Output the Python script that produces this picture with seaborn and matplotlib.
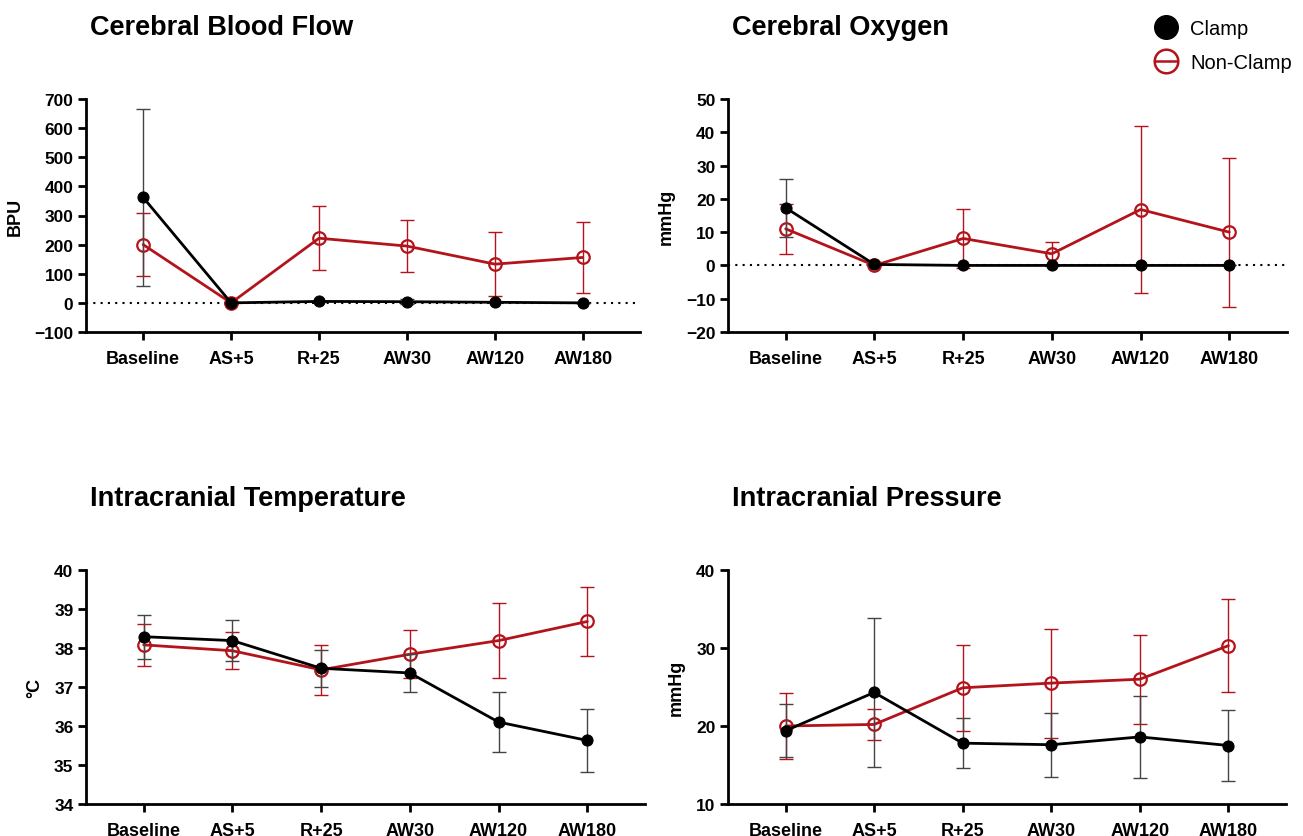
import numpy as np
import pandas as pd
import matplotlib
matplotlib.use("Agg")
import matplotlib.pyplot as plt
import seaborn as sns
from matplotlib.lines import Line2D

timepoints = ["Baseline", "AS+5", "R+25", "AW30", "AW120", "AW180"]

# Cerebral Blood Flow (BPU)
cbf_clamp = [362, 0, 5, 4, 2, 0]
cbf_clamp_sd = [303, 0, 0, 8, 0, 0]
cbf_non = [200, 0, 222, 195, 133, 156]
cbf_non_sd = [108, 0, 110, 90, 109, 123]

# Cerebral Oxygen (mmHg)
oxy_clamp = [17.3, 0.3, 0, 0, 0, 0]
oxy_clamp_sd = [8.7, 0, 0, 0, 0, 0]
oxy_non = [11.0, 0, 8.1, 3.5, 16.8, 10.0]
oxy_non_sd = [7.5, 0, 9.0, 3.6, 25.0, 22.4]

# Intracranial Temperature (C)
temp_clamp = [38.29, 38.19, 37.48, 37.36, 36.10, 35.63]
temp_clamp_sd = [0.56, 0.52, 0.47, 0.49, 0.76, 0.80]
temp_non = [38.08, 37.93, 37.44, 37.84, 38.19, 38.68]
temp_non_sd = [0.54, 0.47, 0.64, 0.61, 0.96, 0.88]

# Intracranial Pressure (mmHg)
icp_clamp = [19.4, 24.3, 17.8, 17.6, 18.6, 17.5]
icp_clamp_sd = [3.4, 9.5, 3.2, 4.1, 5.3, 4.6]
icp_non = [20.0, 20.2, 24.9, 25.5, 26.0, 30.3]
icp_non_sd = [4.2, 2.0, 5.5, 7.0, 5.7, 6.0]

RED = "#b3141c"
sns.set_style("white")
plt.rcParams["font.family"] = ["Liberation Sans", "DejaVu Sans"]
plt.rcParams["text.color"] = "black"
plt.rcParams["xtick.color"] = "black"
plt.rcParams["ytick.color"] = "black"
plt.rcParams["axes.labelcolor"] = "black"

fig = plt.figure(figsize=(13.03, 8.37), dpi=100)

panels = [
    ("Cerebral Blood Flow", "BPU", cbf_clamp, cbf_clamp_sd, cbf_non, cbf_non_sd,
     (-100, 700), np.arange(-100, 701, 100), True, [86, 100, 640, 333]),
    ("Cerebral Oxygen", "mmHg", oxy_clamp, oxy_clamp_sd, oxy_non, oxy_non_sd,
     (-20, 50), np.arange(-20, 51, 10), True, [728, 100, 1287, 333]),
    ("Intracranial Temperature", "°C", temp_clamp, temp_clamp_sd, temp_non, temp_non_sd,
     (34, 40), np.arange(34, 41, 1), False, [86, 571, 645, 805]),
    ("Intracranial Pressure", "mmHg", icp_clamp, icp_clamp_sd, icp_non, icp_non_sd,
     (10, 40), np.arange(10, 41, 10), False, [728, 571, 1286, 805]),
]

W, H = 1303, 837
x = np.arange(len(timepoints))

for title, ylab, c, csd, n, nsd, ylim, yticks, zero, (l, t, r, b) in panels:
    ax = fig.add_axes([l / W, 1 - b / H, (r - l) / W, (b - t) / H])
    if zero:
        ax.axhline(0, color="black", lw=1.5, ls=(0, (1, 2.5)), zorder=1)
    # non-clamp
    ax.errorbar(x, n, yerr=nsd, fmt="none", ecolor=RED, elinewidth=1,
                capsize=5, capthick=1, zorder=2)
    sns.lineplot(x=x, y=n, ax=ax, color=RED, lw=2, marker="o", markersize=9,
                 markerfacecolor="none", markeredgecolor=RED, markeredgewidth=1.6,
                 zorder=3)
    # clamp
    ax.errorbar(x, c, yerr=csd, fmt="none", ecolor="#444444", elinewidth=1,
                capsize=5, capthick=1, zorder=4)
    sns.lineplot(x=x, y=c, ax=ax, color="black", lw=2, marker="o", markersize=8,
                 markeredgecolor="black", zorder=5)

    ax.set_xlim(-0.65, 5.65)
    ax.set_ylim(*ylim)
    ax.set_yticks(yticks)
    ax.set_xticks(x)
    ax.set_xticklabels(timepoints, fontsize=13, fontweight="bold")
    for lab in ax.get_yticklabels():
        lab.set_fontsize(12.5)
        lab.set_fontweight("bold")
    ax.set_ylabel(ylab, fontsize=13, fontweight="bold", labelpad=8)
    ax.set_xlabel("")
    sns.despine(ax=ax)
    for s in ["left", "bottom"]:
        ax.spines[s].set_linewidth(2)
        ax.spines[s].set_color("black")
    ax.tick_params(axis="both", direction="out", length=6, width=2, color="black",
                   bottom=True, left=True, pad=3)
    ax.tick_params(axis="x", pad=7)

    fig.text((l + 4) / W, 1 - (t - 72) / H, title, fontsize=19.5, fontweight="bold",
             va="center", ha="left")

clamp_h = Line2D([], [], ls="none", marker="o", markersize=17, color="black")
non_h = (Line2D([], [], ls="none", marker="o", markersize=17, markerfacecolor="none",
                markeredgecolor=RED, markeredgewidth=1.8),
         Line2D([], [], ls="none", marker="_", markersize=17, color=RED,
                markeredgewidth=1.8))
fig.legend([clamp_h, non_h], ["Clamp", "Non-Clamp"], loc="upper left",
           bbox_to_anchor=(1140 / W, 1 - 10 / H), frameon=False, fontsize=14.5,
           handletextpad=0.4, handlelength=1.6, labelspacing=0.75, borderpad=0)

fig.savefig("out.png", dpi=100)
